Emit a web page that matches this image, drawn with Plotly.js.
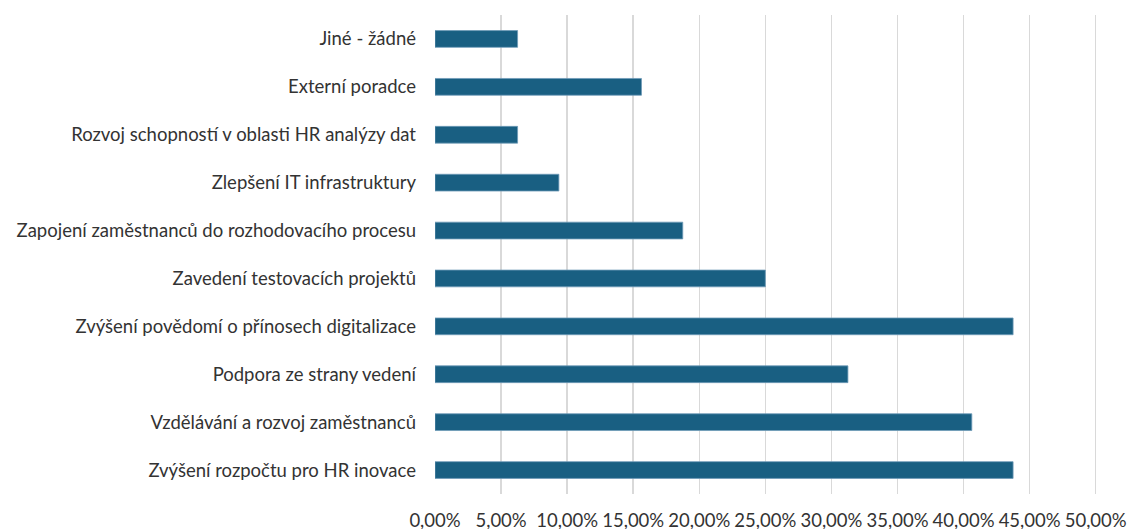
<!DOCTYPE html>
<html>
<head>
<meta charset="utf-8">
<script src="https://cdn.plot.ly/plotly-3.0.1.min.js"></script>
<style>
  html, body { margin: 0; padding: 0; background: #fff; }
  #chart { width: 1127px; height: 529px; }
</style>
</head>
<body>
<div id="chart"></div>
<script>
// Categories listed bottom to top
const categories = [
  "Zvýšení rozpočtu pro HR inovace",
  "Vzdělávání a rozvoj zaměstnanců",
  "Podpora ze strany vedení",
  "Zvýšení povědomí o přínosech digitalizace",
  "Zavedení testovacích projektů",
  "Zapojení zaměstnanců do rozhodovacího procesu",
  "Zlepšení IT infrastruktury",
  "Rozvoj schopností v oblasti HR analýzy dat",
  "Externí poradce",
  "Jiné - žádné"
];
const shares = [0.4375, 0.40625, 0.3125, 0.4375, 0.25, 0.1875, 0.09375, 0.0625, 0.15625, 0.0625];
const tickValues = [0, 0.05, 0.10, 0.15, 0.20, 0.25, 0.30, 0.35, 0.40, 0.45, 0.50];

const trace = {
  type: "bar",
  orientation: "h",
  x: shares,
  y: categories,
  width: 0.35,
  marker: { color: "#195f82", line: { color: "#6e9bb8", width: 0.8 } },
  hoverinfo: "x+y"
};

const layout = {
  width: 1127,
  height: 529,
  margin: { l: 435, r: 30, t: 15, b: 35 },
  paper_bgcolor: "#ffffff",
  plot_bgcolor: "#ffffff",
  separators: ",.",
  font: { family: "Lato, 'Open Sans', sans-serif", size: 18.5, color: "#333333" },
  showlegend: false,
  xaxis: {
    range: [0, 0.501],
    tickvals: tickValues,
    tickformat: ".2%",
    showgrid: true,
    gridcolor: "#d9d9d9",
    gridwidth: 1.5,
    zeroline: false,
    showline: false,
    ticks: "",
    ticklabelstandoff: 13,
    ticklabeloverflow: "allow",
    tickfont: { size: 18.5, color: "#333333" },
    fixedrange: true
  },
  yaxis: {
    type: "category",
    categoryorder: "array",
    categoryarray: categories,
    showgrid: false,
    zeroline: false,
    showline: false,
    ticks: "",
    ticklabelstandoff: 18,
    tickfont: { size: 18.5, color: "#333333" },
    fixedrange: true
  }
};

Plotly.newPlot("chart", [trace], layout, { displayModeBar: false, staticPlot: true });
</script>
</body>
</html>
